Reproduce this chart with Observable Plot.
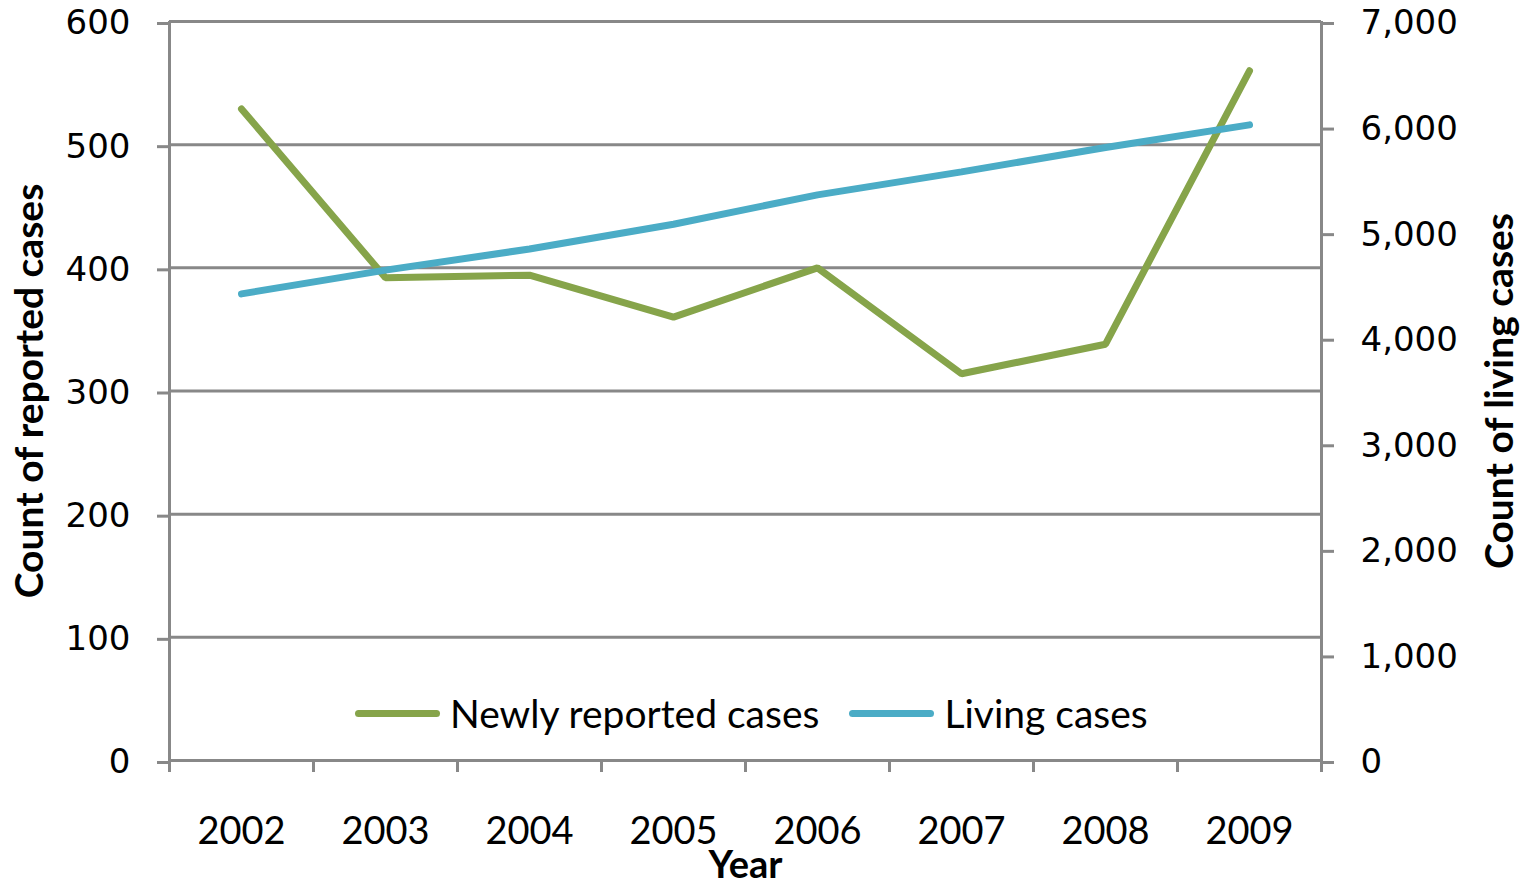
<!DOCTYPE html>
<html>
<head>
<meta charset="utf-8">
<script src="https://cdn.jsdelivr.net/npm/d3@7"></script>
<script src="https://cdn.jsdelivr.net/npm/@observablehq/plot@0.6"></script>
<style>
  html, body { margin: 0; padding: 0; background: #fff; }
  #wrap { position: relative; width: 1528px; height: 889px; }
  #legend { position: absolute; left: 355px; top: 690px; display: flex; align-items: center; font-family: Lato, "Open Sans", sans-serif; font-size: 39px; color: #000; white-space: nowrap; }
  #legend .sw { display: inline-block; width: 85px; height: 7px; border-radius: 4px; margin-right: 10px; }
  #legend .item { display: flex; align-items: center; margin-right: 30px; }
</style>
</head>
<body>
<div id="wrap"><div id="legend"></div></div>
<script>
const years = [2002, 2003, 2004, 2005, 2006, 2007, 2008, 2009];
const newlyReported = [529, 392, 394, 360, 400, 314, 338, 560];
const livingCases = [4420, 4645, 4845, 5080, 5358, 5576, 5806, 6021];
const leftTicks = [0, 100, 200, 300, 400, 500, 600];
const rightTicks = [0, 1000, 2000, 3000, 4000, 5000, 6000, 7000];
const seriesNames = ["Newly reported cases", "Living cases"];
const seriesColors = ["#86A44A", "#4BACC6"];

const leftMax = 600, rightMax = 7000;
const k = leftMax / rightMax;
const rows = years.map((year, i) => ({year, newly: newlyReported[i], living: livingCases[i] * k}));
const boundaries = [...years.map(y => y - 0.5), years[years.length - 1] + 0.5];
const grey = "#888888";

const chart = Plot.plot({
  width: 1528,
  height: 889,
  marginLeft: 169,
  marginRight: 207,
  marginTop: 21,
  marginBottom: 129,
  style: {background: "#fff", fontFamily: "Lato, sans-serif"},
  x: {domain: [boundaries[0], boundaries[boundaries.length - 1]]},
  y: {domain: [0, leftMax]},
  marks: [
    Plot.ruleY(leftTicks, {stroke: grey, strokeWidth: 3}),
    Plot.ruleX([boundaries[0], boundaries[boundaries.length - 1]], {stroke: grey, strokeWidth: 3}),
    Plot.axisY(leftTicks, {anchor: "left", tickSize: 12, tickPadding: 27, stroke: grey, strokeWidth: 3, fontSize: 34, fontFamily: "DejaVu Sans", label: null, dy: 2}),
    Plot.axisY(rightTicks.map(v => v * k), {anchor: "right", tickSize: 12, tickPadding: 27, stroke: grey, strokeWidth: 3, fontSize: 34, fontFamily: "DejaVu Sans", label: null, dy: 2,
      tickFormat: d => d3.format(",")(Math.round(d / k))}),
    Plot.axisX(boundaries, {tickSize: 12, stroke: grey, strokeWidth: 3, tickFormat: () => "", label: null}),
    Plot.axisX(years, {tickSize: 0, tickPadding: 57, fontSize: 38, fontFamily: "Lato", tickFormat: d => String(d), label: null}),
    Plot.line(rows, {x: "year", y: "newly", stroke: seriesColors[0], strokeWidth: 7, strokeLinecap: "round", strokeLinejoin: "miter"}),
    Plot.line(rows, {x: "year", y: "living", stroke: seriesColors[1], strokeWidth: 7, strokeLinecap: "round", strokeLinejoin: "miter"}),
    Plot.text(["Count of reported cases"], {frameAnchor: "left", dx: -139, rotate: -90, textAnchor: "middle", lineAnchor: "middle", fontSize: 39, fontWeight: "bold", fontFamily: "Lato"}),
    Plot.text(["Count of living cases"], {frameAnchor: "right", dx: 179, rotate: -90, textAnchor: "middle", lineAnchor: "middle", fontSize: 39, fontWeight: "bold", fontFamily: "Lato"}),
    Plot.text(["Year"], {frameAnchor: "bottom", dy: 105, textAnchor: "middle", lineAnchor: "middle", fontSize: 38, fontWeight: "bold", fontFamily: "Lato"})
  ]
});
const wrap = document.getElementById("wrap");
wrap.insertBefore(chart, wrap.firstChild);

const legend = document.getElementById("legend");
seriesNames.forEach((name, i) => {
  const item = document.createElement("div");
  item.className = "item";
  const sw = document.createElement("span");
  sw.className = "sw";
  sw.style.background = seriesColors[i];
  const t = document.createElement("span");
  t.textContent = name;
  item.appendChild(sw);
  item.appendChild(t);
  legend.appendChild(item);
});
</script>
</body>
</html>
